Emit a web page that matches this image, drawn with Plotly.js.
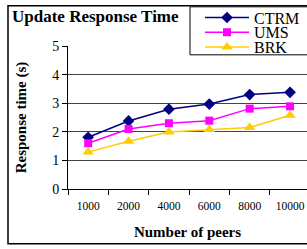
<!DOCTYPE html>
<html><head><meta charset="utf-8">
<script src="https://cdn.plot.ly/plotly-3.0.1.min.js"></script>
<style>html,body{margin:0;padding:0;background:#fff;overflow:hidden}</style>
</head><body>
<div id="chart" style="width:307px;height:249px"></div>
<script>
var categories = ["1000", "2000", "4000", "6000", "8000", "10000"];
var ctrm = [1.81, 2.38, 2.79, 2.97, 3.30, 3.38];
var ums = [1.60, 2.10, 2.30, 2.39, 2.81, 2.89];
var brk = [1.29, 1.67, 1.99, 2.08, 2.15, 2.58];
var seriesNames = ["CTRM", "UMS", "BRK"];

var serif = "Liberation Serif, Times New Roman, serif";
var PL = 68, PR = 307, PT = 43, PB = 189;
function px2x(p) { return (p - PL) / (PR - PL); }
function py2y(p) { return (PB - p) / (PB - PT); }
function legendAt(py) {
  return {x: px2x(200), y: py2y(py), xanchor: "left", yanchor: "middle", bgcolor: "rgba(0,0,0,0)",
          borderwidth: 0, itemwidth: 44, font: {family: serif, size: 16, color: "#000"}};
}
var traces = [
  {x: categories, y: ctrm, name: seriesNames[0], type: "scatter", mode: "lines+markers", legend: "legend",
   line: {color: "#000080", width: 1.5}, marker: {symbol: "diamond", size: 9, color: "#000080"}},
  {x: categories, y: ums, name: seriesNames[1], type: "scatter", mode: "lines+markers", legend: "legend2",
   line: {color: "#FF00FF", width: 1.5}, marker: {symbol: "square", size: 8, color: "#FF00FF"}},
  {x: categories, y: brk, name: seriesNames[2], type: "scatter", mode: "lines+markers", legend: "legend3",
   line: {color: "#FFCC00", width: 1.5}, marker: {symbol: "triangle-up", size: 10, color: "#FFCC00"}}
];
var layout = {
  width: 307, height: 249,
  margin: {l: PL, r: 307 - PR, t: PT, b: 249 - PB, pad: 0},
  paper_bgcolor: "#fff", plot_bgcolor: "#fff",
  font: {family: serif, color: "#000"},
  showlegend: true,
  legend: legendAt(14), legend2: legendAt(29), legend3: legendAt(44),
  title: {text: "<b>Update Response Time</b>", font: {family: serif, size: 17, color: "#000"},
          x: 12 / 307, xanchor: "left", xref: "container", y: 1 - 16 / 249, yanchor: "middle", yref: "container"},
  xaxis: {type: "category", range: [-0.5, 5.42], showgrid: false, zeroline: false,
          showline: true, linecolor: "#000", linewidth: 1,
          ticks: "outside", tickson: "boundaries", ticklen: 5, tickcolor: "#000", ticklabelstandoff: 6,
          tickfont: {family: serif, size: 11.5, color: "#000"},
          title: {text: "<b>Number of peers</b>", font: {family: serif, size: 15, color: "#000"}, standoff: 15}},
  yaxis: {range: [0, 5], dtick: 1, showgrid: true, gridcolor: "#444", gridwidth: 1, zeroline: false,
          showline: true, linecolor: "#000", linewidth: 1,
          ticks: "outside", ticklen: 5, tickcolor: "#000",
          tickfont: {family: serif, size: 14, color: "#000"},
          title: {text: "<b>Response time (s)</b>", font: {family: serif, size: 15, color: "#000"}, standoff: 21}},
  shapes: [
    {type: "rect", xref: "paper", yref: "paper", x0: px2x(8), x1: px2x(330), y0: py2y(245), y1: py2y(2),
     line: {color: "#000", width: 1.5}, fillcolor: "rgba(0,0,0,0)", layer: "below"},
    {type: "rect", xref: "paper", yref: "paper", x0: px2x(190), x1: px2x(330), y0: py2y(52), y1: py2y(3),
     line: {color: "#000", width: 1}, fillcolor: "#fff", layer: "above"}
  ]
};
Plotly.newPlot("chart", traces, layout, {displayModeBar: false, staticPlot: true});
</script>
</body></html>
